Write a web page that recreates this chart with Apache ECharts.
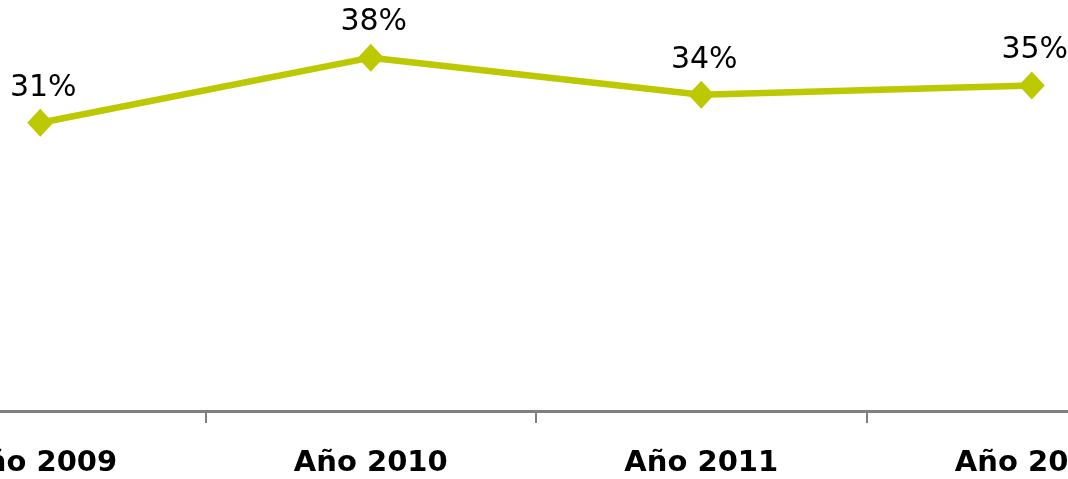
<!DOCTYPE html>
<html>
<head>
<meta charset="utf-8">
<script src="https://cdn.jsdelivr.net/npm/echarts@6/dist/echarts.min.js"></script>
<style>
  html, body { margin: 0; padding: 0; background: #fff; overflow: hidden; width: 1068px; height: 479px; }
  /* the reference is a crop of a wider chart, so the canvas sticks out on both sides */
  #chart { position: absolute; left: -125px; top: 0; width: 1322px; height: 479px; }
</style>
</head>
<body>
<div id="chart"></div>
<script>
  // categories and values (percent)
  var years = ['Año 2009', 'Año 2010', 'Año 2011', 'Año 2012'];
  var values = [31, 38, 34, 35];

  var myChart = echarts.init(document.getElementById('chart'));
  var option = {
    animation: false,
    grid: {
      left: 0,
      right: 0,
      top: 0,
      bottom: 68
    },
    xAxis: {
      type: 'category',
      data: years,
      boundaryGap: true,
      axisLine: {
        show: true,
        lineStyle: { color: '#808080', width: 3 }
      },
      axisTick: {
        show: true,
        length: 12,
        lineStyle: { color: '#808080', width: 2 }
      },
      axisLabel: {
        margin: 38,
        color: '#000',
        fontFamily: 'DejaVu Sans',
        fontWeight: 'bold',
        fontSize: 29
      }
    },
    yAxis: {
      type: 'value',
      min: 0,
      max: 44.2,
      show: false,
      splitLine: { show: false }
    },
    series: [{
      type: 'line',
      data: values,
      symbol: 'diamond',
      symbolSize: [26, 28],
      lineStyle: { color: '#BCC800', width: 6.5 },
      itemStyle: { color: '#BCC800' },
      label: {
        show: true,
        position: 'top',
        distance: 6,
        offset: [3, 0],
        color: '#000',
        fontFamily: 'DejaVu Sans',
        fontSize: 30,
        formatter: function (p) { return p.value + '%'; }
      }
    }]
  };
  myChart.setOption(option);
</script>
</body>
</html>
